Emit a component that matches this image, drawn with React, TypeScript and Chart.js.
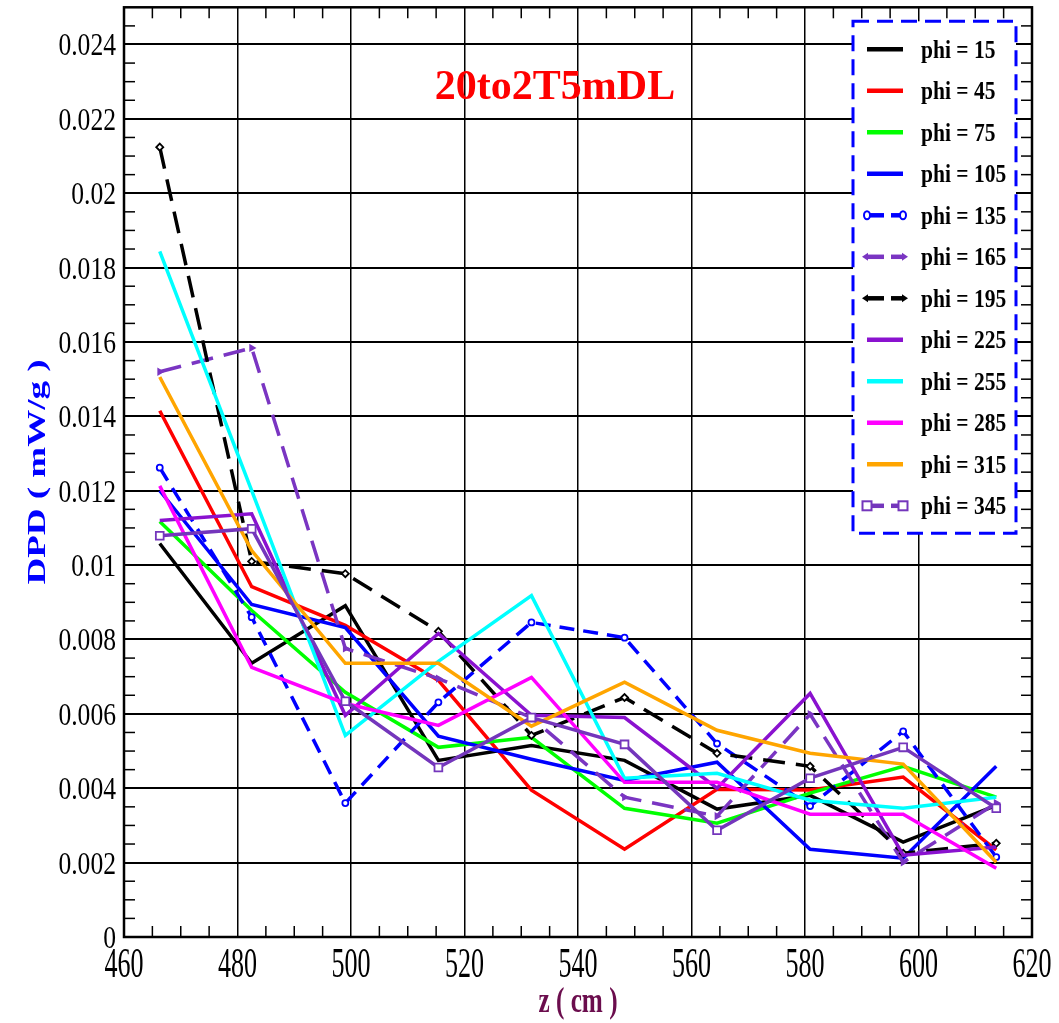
import React, { useEffect, useRef } from "react";
import { Chart, registerables } from "chart.js";

Chart.register(...registerables);

// ---------- data ----------
const Z_CM = [466.3, 482.5, 499.0, 515.4, 531.8, 548.2, 564.5, 580.9, 597.3, 613.7];

const PHI_15 = [0.01058, 0.00736, 0.00891, 0.00475, 0.00515, 0.00475, 0.00344, 0.00381, 0.00255, 0.00354];
const PHI_45 = [0.01415, 0.00942, 0.00838, 0.0069, 0.00395, 0.00236, 0.00397, 0.00395, 0.0043, 0.00234];
const PHI_75 = [0.01117, 0.00878, 0.00658, 0.0051, 0.00537, 0.00346, 0.00306, 0.00387, 0.00459, 0.00376];
const PHI_105 = [0.012, 0.00894, 0.00832, 0.0054, 0.00478, 0.00421, 0.0047, 0.00236, 0.00212, 0.00459];
const PHI_135 = [0.01262, 0.0086, 0.0036, 0.00631, 0.00846, 0.00805, 0.0052, 0.00352, 0.00553, 0.00215];
const PHI_165 = [0.0152, 0.01584, 0.00776, 0.00695, 0.0059, 0.00376, 0.00325, 0.00599, 0.00201, 0.0036];
const PHI_195 = [0.02124, 0.0101, 0.00977, 0.00822, 0.00542, 0.00644, 0.00494, 0.00459, 0.00225, 0.00252];
const PHI_225 = [0.0112, 0.01138, 0.00596, 0.00816, 0.00596, 0.0059, 0.004, 0.00655, 0.0022, 0.00242];
const PHI_255 = [0.01844, 0.012, 0.00542, 0.00741, 0.00918, 0.00427, 0.0044, 0.00368, 0.00346, 0.00376];
const PHI_285 = [0.01213, 0.00725, 0.00628, 0.00569, 0.00698, 0.00416, 0.00416, 0.0033, 0.0033, 0.00185];
const PHI_315 = [0.01506, 0.01039, 0.00736, 0.00736, 0.00567, 0.00685, 0.00556, 0.00494, 0.00465, 0.00201];
const PHI_345 = [0.01079, 0.01098, 0.00634, 0.00456, 0.0059, 0.00518, 0.00287, 0.00427, 0.0051, 0.00346];

const SERIES_LABELS = [
  "phi = 15", "phi = 45", "phi = 75", "phi = 105", "phi = 135", "phi = 165",
  "phi = 195", "phi = 225", "phi = 255", "phi = 285", "phi = 315", "phi = 345",
];
const SERIES_VALUES = [
  PHI_15, PHI_45, PHI_75, PHI_105, PHI_135, PHI_165,
  PHI_195, PHI_225, PHI_255, PHI_285, PHI_315, PHI_345,
];

const X_TICK_VALUES = [460, 480, 500, 520, 540, 560, 580, 600, 620];
const X_TICK_LABELS = ["460", "480", "500", "520", "540", "560", "580", "600", "620"];
const Y_TICK_VALUES = [0, 0.002, 0.004, 0.006, 0.008, 0.01, 0.012, 0.014, 0.016, 0.018, 0.02, 0.022, 0.024];
const Y_TICK_LABELS = ["0", "0.002", "0.004", "0.006", "0.008", "0.01", "0.012", "0.014", "0.016", "0.018", "0.02", "0.022", "0.024"];

const CHART_TITLE = "20to2T5mDL";
const X_TITLE = "z ( cm )";
const Y_TITLE = "DPD ( mW/g )";

// ---------- styles ----------
type Mark = "none" | "circle" | "arrow" | "diamond" | "square";
const STYLES: { color: string; dash: number[]; mark: Mark }[] = [
  { color: "#000000", dash: [], mark: "none" },
  { color: "#ff0000", dash: [], mark: "none" },
  { color: "#00ff00", dash: [], mark: "none" },
  { color: "#0000ff", dash: [], mark: "none" },
  { color: "#0000ff", dash: [15, 9], mark: "circle" },
  { color: "#7a35c2", dash: [22, 11], mark: "arrow" },
  { color: "#000000", dash: [22, 11], mark: "diamond" },
  { color: "#8a12cf", dash: [], mark: "none" },
  { color: "#00ffff", dash: [], mark: "none" },
  { color: "#ff00ff", dash: [], mark: "none" },
  { color: "#ffa500", dash: [], mark: "none" },
  { color: "#7436bc", dash: [], mark: "square" },
];

const SERIF = '"Liberation Serif", "Times New Roman", serif';

function drawText(
  ctx: CanvasRenderingContext2D,
  text: string,
  x: number,
  y: number,
  font: string,
  color: string,
  align: CanvasTextAlign,
  sx: number,
  sy = 1,
  rot = 0
) {
  ctx.save();
  ctx.translate(x, y);
  if (rot) ctx.rotate(rot);
  ctx.scale(sx, sy);
  ctx.font = font;
  ctx.fillStyle = color;
  ctx.textAlign = align;
  ctx.textBaseline = "alphabetic";
  ctx.fillText(text, 0, 0);
  ctx.restore();
}

function seg(ctx: CanvasRenderingContext2D, x1: number, y1: number, x2: number, y2: number) {
  ctx.beginPath();
  ctx.moveTo(x1, y1);
  ctx.lineTo(x2, y2);
  ctx.stroke();
}

function drawLegendMark(ctx: CanvasRenderingContext2D, mark: Mark, x: number, y: number, color: string, dir: number) {
  ctx.save();
  ctx.setLineDash([]);
  ctx.lineWidth = 2;
  ctx.strokeStyle = color;
  ctx.fillStyle = color;
  if (mark === "circle") {
    ctx.beginPath();
    ctx.ellipse(x, y, 3, 4, 0, 0, Math.PI * 2);
    ctx.fillStyle = "#fff";
    ctx.fill();
    ctx.stroke();
  } else if (mark === "arrow" || mark === "diamond") {
    ctx.beginPath();
    ctx.moveTo(x + dir * 5, y);
    ctx.lineTo(x - dir * 1, y - 4);
    ctx.lineTo(x - dir * 1, y + 4);
    ctx.closePath();
    ctx.fill();
  } else if (mark === "square") {
    ctx.fillStyle = "#fff";
    ctx.fillRect(x - 4.5, y - 4.5, 9, 9);
    ctx.strokeRect(x - 4.5, y - 4.5, 9, 9);
  }
  ctx.restore();
}

const decorPlugin = {
  id: "decor",
  beforeDatasetsDraw(chart: any) {
    const { ctx, chartArea, scales } = chart;
    const { left, right, top, bottom } = chartArea;
    const xs = scales.x;
    const ys = scales.y;
    ctx.save();
    ctx.strokeStyle = "#000";
    ctx.lineWidth = 1.5;
    for (let v = 465; v < 620; v += 5) {
      if (v % 20 === 0) continue;
      const px = xs.getPixelForValue(v);
      seg(ctx, px, bottom, px, bottom - 11);
      seg(ctx, px, top, px, top + 11);
    }
    for (let k = 1; k < 50; k++) {
      if (k % 4 === 0) continue;
      const py = ys.getPixelForValue(k * 0.0005);
      seg(ctx, left, py, left + 11, py);
      seg(ctx, right, py, right - 11, py);
    }
    ctx.restore();
  },
  afterDraw(chart: any) {
    const { ctx, chartArea, scales } = chart;
    const { left, right, top, bottom } = chartArea;
    const xs = scales.x;
    const ys = scales.y;

    // frame
    ctx.save();
    ctx.strokeStyle = "#000";
    ctx.lineWidth = 2.5;
    ctx.strokeRect(left, top, right - left, bottom - top);
    ctx.restore();

    // tick labels
    Y_TICK_VALUES.forEach((v, i) => {
      const py = ys.getPixelForValue(v);
      drawText(ctx, Y_TICK_LABELS[i], left - 8, py + 11, `32px ${SERIF}`, "#000", "right", 0.8);
    });
    X_TICK_VALUES.forEach((v, i) => {
      const px = xs.getPixelForValue(v);
      drawText(ctx, X_TICK_LABELS[i], px, bottom + 40, `42px ${SERIF}`, "#000", "center", 0.62);
    });

    // axis titles
    drawText(ctx, X_TITLE, (left + right) / 2, bottom + 75, `bold 36px ${SERIF}`, "#6b0d4d", "center", 0.7);
    drawText(ctx, Y_TITLE, 45, 472, `bold 37px ${SERIF}`, "#0000ff", "center", 1, 0.7, -Math.PI / 2);

    // chart title
    drawText(ctx, CHART_TITLE, left + 431, top + 92, `bold 42px ${SERIF}`, "#ff0000", "center", 1);

    // legend
    const bx = right - 179;
    const by = top + 14;
    const bw = 163;
    const bh = 512;
    ctx.save();
    ctx.fillStyle = "#fff";
    ctx.fillRect(bx, by, bw, bh);
    ctx.strokeStyle = "#0000ff";
    ctx.lineWidth = 3;
    ctx.setLineDash([16, 8]);
    ctx.strokeRect(bx, by, bw, bh);
    ctx.restore();
    chart.data.datasets.forEach((ds: any, i: number) => {
      const st = STYLES[i];
      const cy = by + 28 + i * 41.5;
      const x1 = bx + 14;
      const x2 = bx + 50;
      ctx.save();
      ctx.strokeStyle = st.color;
      ctx.lineWidth = 4.5;
      if (st.mark === "none") {
        seg(ctx, x1, cy, x2, cy);
      } else {
        seg(ctx, x1, cy, x1 + 17, cy);
        seg(ctx, x2 - 12, cy, x2, cy);
      }
      ctx.restore();
      if (st.mark !== "none") {
        const leftMark = st.mark === "diamond" ? "arrow" : st.mark;
        drawLegendMark(ctx, leftMark, x1, cy, st.color, -1);
        drawLegendMark(ctx, st.mark, x2, cy, st.color, 1);
      }
      drawText(ctx, ds.label, bx + 68, cy + 8.5, `bold 25px ${SERIF}`, "#000", "left", 0.86);
    });
  },
};

export default function App() {
  const ref = useRef<HTMLCanvasElement>(null);

  useEffect(() => {
    const canvas = ref.current;
    if (!canvas) return;
    const datasets = SERIES_VALUES.map((vals, i) => {
      const st = STYLES[i];
      let pointStyle: any = "circle";
      let pointRadius = 0;
      let pointBg = st.color;
      let rotation = 0;
      if (st.mark === "circle") {
        pointStyle = "circle";
        pointRadius = 3;
        pointBg = "#fff";
      } else if (st.mark === "arrow") {
        pointStyle = "triangle";
        pointRadius = 3;
        rotation = 90;
      } else if (st.mark === "diamond") {
        pointStyle = "rectRot";
        pointRadius = 3.5;
        pointBg = "#fff";
      } else if (st.mark === "square") {
        pointStyle = "rect";
        pointRadius = 5.5;
        pointBg = "#fff";
      }
      return {
        label: SERIES_LABELS[i],
        data: Z_CM.map((z, k) => ({ x: z, y: vals[k] })),
        borderColor: st.color,
        backgroundColor: st.color,
        borderWidth: 3.5,
        borderDash: st.dash,
        pointStyle,
        pointRadius,
        pointRotation: rotation,
        pointBorderColor: st.color,
        pointBackgroundColor: pointBg,
        pointBorderWidth: 1.8,
        tension: 0,
        fill: false,
        order: -i,
      };
    });

    const chart = new Chart(canvas, {
      type: "line",
      data: { datasets },
      options: {
        responsive: false,
        animation: false,
        devicePixelRatio: 1,
        layout: { padding: { top: 5, right: 27, left: 0, bottom: 0 } },
        plugins: {
          legend: { display: false },
          title: { display: false },
          tooltip: { enabled: false },
        },
        scales: {
          x: {
            type: "linear",
            min: 460,
            max: 620,
            afterBuildTicks: (scale: any) => {
              scale.ticks = X_TICK_VALUES.map((v) => ({ value: v }));
            },
            afterFit: (scale: any) => {
              scale.height = 86;
            },
            ticks: { display: false },
            grid: { color: "#000", lineWidth: 1.5, drawTicks: false },
            border: { display: false },
          },
          y: {
            type: "linear",
            min: 0,
            max: 0.025,
            afterBuildTicks: (scale: any) => {
              scale.ticks = Y_TICK_VALUES.map((v) => ({ value: v }));
            },
            afterFit: (scale: any) => {
              scale.width = 124;
            },
            ticks: { display: false },
            grid: { color: "#000", lineWidth: 2, drawTicks: false },
            border: { display: false },
          },
        },
      } as any,
      plugins: [decorPlugin],
    });
    return () => chart.destroy();
  }, []);

  return (
    <div style={{ position: "absolute", left: 0, top: 0, width: 1059, height: 1023, background: "#fff" }}>
      <canvas ref={ref} width={1059} height={1023} style={{ display: "block" }} />
    </div>
  );
}
